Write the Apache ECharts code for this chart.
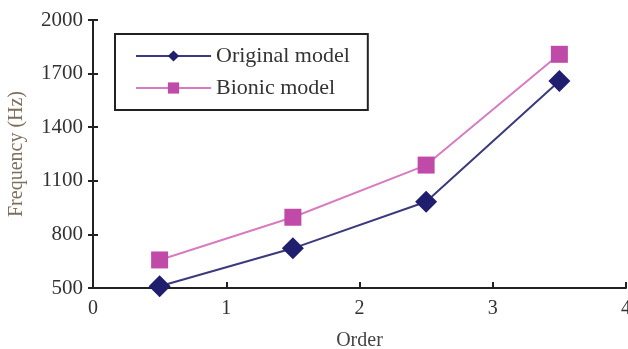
<!DOCTYPE html>
<html><head><meta charset="utf-8">
<script src="https://cdn.jsdelivr.net/npm/echarts@6/dist/echarts.min.js"></script>
<style>html,body{margin:0;padding:0;background:#fff}#c{width:628px;height:349px}</style>
</head><body><div id="c"></div>
<script>
var orders = [0.5, 1.5, 2.5, 3.5];
var originalModel = [510, 722, 983, 1658];
var bionicModel = [657, 896, 1188, 1808];
var seriesNames = ['Original model', 'Bionic model'];
var xTicks = [0, 1, 2, 3, 4];
var yTicks = [500, 800, 1100, 1400, 1700, 2000];

var chart = echarts.init(document.getElementById('c'));
var serif = '"Liberation Serif", "DejaVu Serif", serif';
function pairs(xs, ys){ return xs.map(function(x,i){ return [x, ys[i]]; }); }
chart.setOption({
  animation: false,
  grid: { left: 93, right: 2, top: 20, bottom: 61, outerBoundsMode: 'none', containLabel: false },
  xAxis: {
    type: 'value', min: xTicks[0], max: xTicks[xTicks.length-1], interval: 1,
    name: 'Order', nameLocation: 'middle', nameGap: 43,
    nameTextStyle: { fontFamily: serif, fontSize: 20, color: '#444' },
    axisLine: { lineStyle: { color: '#222', width: 2 } },
    axisTick: { inside: true, length: 6, lineStyle: { color: '#222', width: 2 } },
    axisLabel: { fontFamily: serif, fontSize: 20, color: '#333', margin: 11, formatter: function(v){ return String(v); } },
    splitLine: { show: false }
  },
  yAxis: [{
    type: 'value', min: yTicks[0], max: yTicks[yTicks.length-1], interval: 300,
    name: 'Frequency (Hz)', nameLocation: 'middle', nameGap: 66, nameRotate: 90,
    nameTextStyle: { fontFamily: serif, fontSize: 20, color: '#7d6e5e' },
    axisLine: { show: true, lineStyle: { color: '#222', width: 2 } },
    axisTick: { show: true, length: 5, lineStyle: { color: '#222', width: 2 } },
    axisLabel: { fontFamily: serif, fontSize: 21, color: '#333', margin: 10, formatter: function(v){ return String(v); } },
    splitLine: { show: false }
  }, {
    type: 'value', position: 'left', min: yTicks[0], max: yTicks[yTicks.length-1], interval: 300,
    axisLine: { show: false },
    axisTick: { show: true, inside: true, length: 5, lineStyle: { color: '#222', width: 2 } },
    axisLabel: { show: false },
    splitLine: { show: false }
  }],
  legend: {
    orient: 'vertical', left: 115, top: 34,
    padding: [11, 18, 11, 20], itemGap: 10,
    borderColor: '#222', borderWidth: 2,
    itemWidth: 75, itemHeight: 14,
    textStyle: { fontFamily: serif, fontSize: 22, color: '#333' },
    data: seriesNames
  },
  series: [{
    name: seriesNames[0], type: 'line', data: pairs(orders, originalModel),
    symbol: 'diamond', symbolSize: 22,
    itemStyle: { color: '#1f1f6e' },
    lineStyle: { color: '#3a3a7c', width: 2 }
  }, {
    name: seriesNames[1], type: 'line', data: pairs(orders, bionicModel),
    symbol: 'rect', symbolSize: 17,
    itemStyle: { color: '#c04aa8' },
    lineStyle: { color: '#d77cbf', width: 2 }
  }]
});
</script></body></html>
